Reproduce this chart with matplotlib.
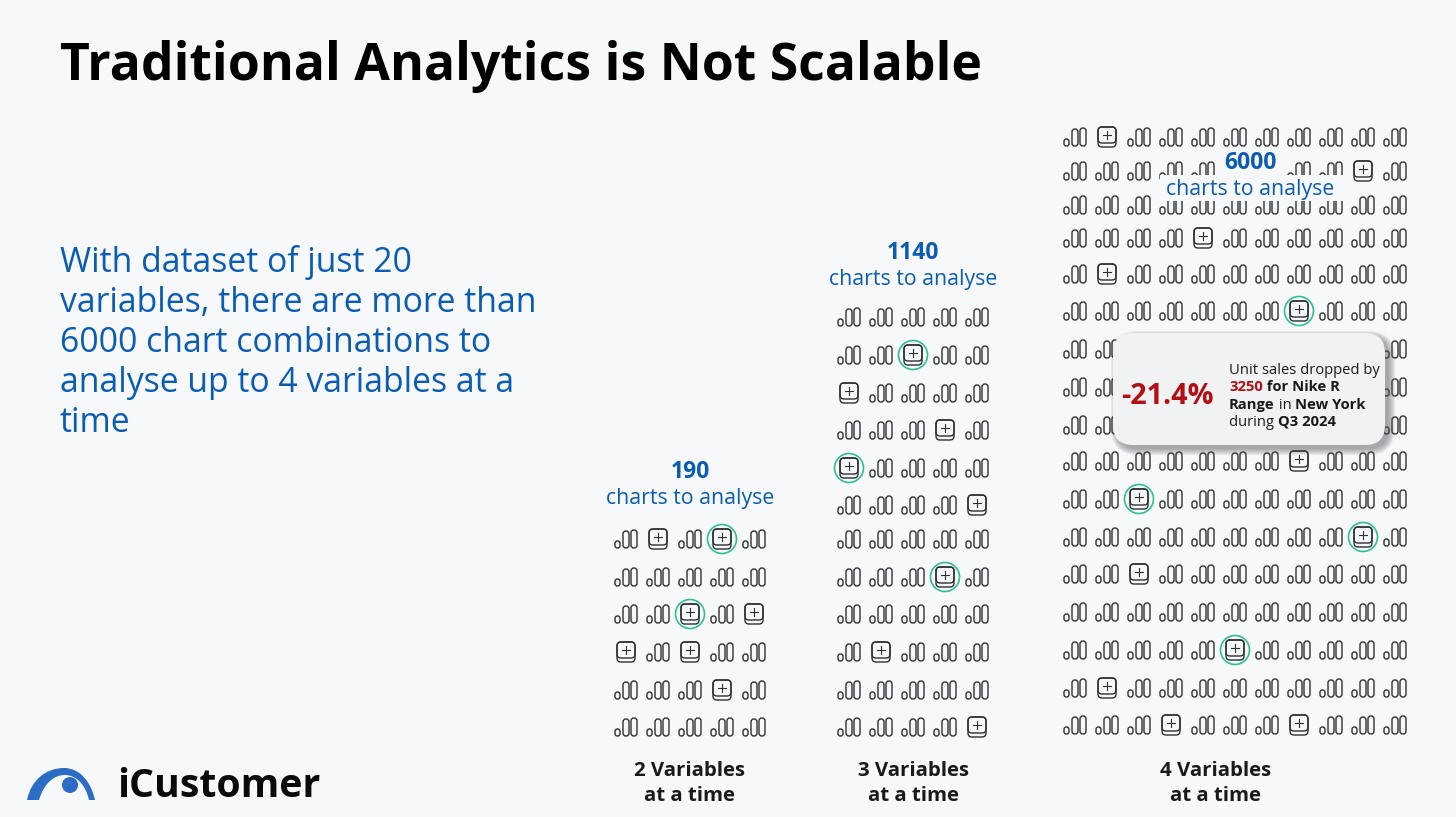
import matplotlib
matplotlib.use("Agg")
import matplotlib.pyplot as plt
from matplotlib.patches import Circle, FancyBboxPatch, PathPatch, Rectangle
from matplotlib.path import Path

plt.rcParams["font.family"] = ["Open Sans", "DejaVu Sans"]

# chart text
title = "Traditional Analytics is Not Scalable"
intro_lines = ["With dataset of just 20", "variables, there are more than",
               "6000 chart combinations to", "analyse up to 4 variables at a", "time"]
group_counts = ["190", "1140", "6000"]
group_sub = "charts to analyse"
group_labels = ["2 Variables", "3 Variables", "4 Variables"]
group_label2 = "at a time"
brand = "iCustomer"
callout_pct = "-21.4%"

# grid size of each group: rows, columns
group_rows = [6, 12, 17]
group_cols = [5, 5, 11]
# cells (row, col) that show the plus icon instead of the small bars
plus_cells = [
    [(0, 1), (2, 4), (3, 0), (3, 2), (4, 3)],
    [(2, 0), (3, 3), (5, 4), (9, 1), (11, 4)],
    [(0, 1), (1, 9), (3, 4), (4, 1), (9, 7), (12, 2), (15, 1), (16, 3), (16, 7)],
]
# cells with the plus icon and a green ring
ring_cells = [
    [(0, 3), (2, 2)],
    [(1, 2), (4, 0), (7, 3)],
    [(5, 7), (10, 2), (11, 9), (14, 5)],
]

# layout, in pixels of the 1456x817 picture
BG = "#f6f8fa"
BLUE = "#0b5cb5"
INK = "#2e2f33"
GREEN = "#2fbf90"
RED = "#b30f14"
group_x0 = [626, 849, 1075]
col_step = 32
group_y = [
    [539, 577, 614, 652, 690, 727],
    [317, 355, 393, 430, 468, 505, 539, 577, 614, 652, 690, 727],
    [137, 171, 205, 238, 274, 311, 349, 387, 425, 461, 499, 537, 574, 612, 650, 688, 725],
]

fig = plt.figure(figsize=(14.56, 8.17), dpi=100, facecolor=BG)
ax = fig.add_axes([0, 0, 1, 1])
ax.set_xlim(0, 1456)
ax.set_ylim(817, 0)
ax.axis("off")


def round_box(x0, y0, x1, y1, r, **kw):
    ax.add_patch(FancyBboxPatch((x0 + r, y0 + r), x1 - x0 - 2 * r, y1 - y0 - 2 * r,
                                boxstyle="round,pad=%g,rounding_size=%g" % (r, r), **kw))


def draw_bars(x, y):
    # one small and two tall outlined bars
    kw = dict(fc="none", ec=INK, lw=1.0, zorder=2)
    round_box(x - 11, y + 2, x - 6, y + 9, 2.4, **kw)
    round_box(x - 3, y - 8, x + 3, y + 9, 2.9, **kw)
    round_box(x + 5, y - 9, x + 11, y + 9, 2.9, **kw)


def draw_plus(x, y):
    kw = dict(fc="none", ec=INK, lw=1.0, zorder=2)
    round_box(x - 9, y - 10, x + 9, y + 10, 4, **kw)
    round_box(x - 9, y - 10, x + 9, y + 6, 4, **kw)
    ax.plot([x - 4, x + 4], [y - 2, y - 2], color=INK, lw=0.8, zorder=2)
    ax.plot([x, x], [y - 6, y + 2], color=INK, lw=0.8, zorder=2)


for g in range(3):
    for r in range(group_rows[g]):
        for c in range(group_cols[g]):
            x = group_x0[g] + c * col_step
            y = group_y[g][r]
            if (r, c) in ring_cells[g]:
                draw_plus(x, y)
                ax.add_patch(Circle((x, y), 14.5, fc="none", ec=GREEN, lw=1.2, zorder=2))
            elif (r, c) in plus_cells[g]:
                draw_plus(x, y)
            else:
                draw_bars(x, y)

# background strips behind the 6000 heading
ax.add_patch(Rectangle((1160, 175), 185, 26, fc=BG, ec="none", zorder=3))
ax.add_patch(Rectangle((1216, 148), 66, 30, fc=BG, ec="none", zorder=3))

ax.text(60, 80, title, fontsize=37.3, fontweight="bold", color="black", va="baseline", zorder=5)
for i, line in enumerate(intro_lines):
    ax.text(60, 272 + i * 40, line, fontsize=24.3, color=BLUE, va="baseline", zorder=5)

count_x = [690, 913, 1250]
count_y = [472, 253, 163]
sub_y = [498, 280, 189]
label_x = [690, 913, 1216]
for g in range(3):
    ax.text(count_x[g], count_y[g], group_counts[g], fontsize=16.5, fontweight="bold", color=BLUE,
            ha="center", va="center", zorder=5)
    ax.text(count_x[g], sub_y[g], group_sub, fontsize=15.3, color=BLUE, ha="center", va="center", zorder=5)
    ax.text(label_x[g], 771, group_labels[g], fontsize=14.7, fontweight="bold", color="#1a1a1a",
            ha="center", va="center", zorder=5)
    ax.text(label_x[g], 796, group_label2, fontsize=14.7, fontweight="bold", color="#1a1a1a",
            ha="center", va="center", zorder=5)

# callout card, soft shadow made of stacked boxes
for grow in range(7, 0, -1):
    round_box(1113 + 5 - grow, 333 + 5 - grow, 1385 + 3 + grow, 445 + 3 + grow, 20 + grow,
              fc="#55585c", ec="none", alpha=0.09, zorder=6)
round_box(1113, 333, 1385, 445, 20, fc="#f1f2f3", ec="none", zorder=7)
ax.text(1121, 396, callout_pct, fontsize=20.7, fontweight="bold", color=RED, va="center", zorder=8)

# callout sentence: runs of text chained along each line
callout_runs = [
    [("Unit sales dropped by", "normal", "#1a1a1a")],
    [("3250", "bold", RED), (" for Nike R", "bold", "#1a1a1a")],
    [("Range", "bold", "#1a1a1a"), (" in ", "normal", "#1a1a1a"), ("New York", "bold", "#1a1a1a")],
    [("during ", "normal", "#1a1a1a"), ("Q3 2024", "bold", "#1a1a1a")],
]
renderer = fig.canvas.get_renderer()
for i, runs in enumerate(callout_runs):
    x = 1229
    for s, weight, col in runs:
        t = ax.text(x, 374 + i * 17.3, s, fontsize=10.65, fontweight=weight, color=col, va="baseline", zorder=8)
        x += t.get_window_extent(renderer).width

# logo
arc_verts = [(27, 800), (31, 780), (46, 768), (64, 768), (80, 768), (91, 782), (95, 800),
             (89, 800), (86, 786), (77, 775), (65, 775), (54, 775), (44, 783), (39, 800), (27, 800)]
arc_codes = [Path.MOVETO] + [Path.CURVE4] * 6 + [Path.LINETO] + [Path.CURVE4] * 6 + [Path.CLOSEPOLY]
ax.add_patch(PathPatch(Path(arc_verts, arc_codes), fc="#2b6cc4", ec="none", zorder=5))
ax.add_patch(Circle((70, 785), 8, fc="#2b6cc4", ec="none", zorder=5))
ax.text(117, 797, brand, fontsize=28.3, fontweight="bold", color="#0a0a0a", va="baseline", zorder=5)

fig.savefig("out.png", dpi=100, facecolor=BG)
